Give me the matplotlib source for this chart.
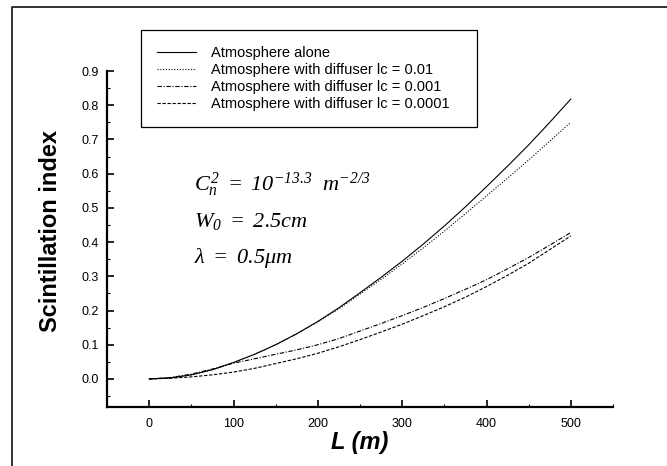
import matplotlib

# Non-interactive backend, the script only writes out.png.
matplotlib.use("Agg")

import matplotlib.pyplot as plt
from matplotlib.lines import Line2D
from matplotlib.ticker import MultipleLocator

plt.rcParams["font.family"] = ["Liberation Sans", "DejaVu Sans"]
plt.rcParams["mathtext.fontset"] = "custom"
plt.rcParams["mathtext.rm"] = "Liberation Serif:italic"
plt.rcParams["mathtext.it"] = "Liberation Serif:italic"

# Propagation distance L (m)
distance = [0, 25, 50, 75, 100, 125, 150, 175, 200, 225, 250,
            275, 300, 325, 350, 375, 400, 425, 450, 475, 500]

atmosphere_alone = [0, 0.003, 0.012, 0.027, 0.048, 0.072, 0.100, 0.132, 0.168, 0.208, 0.252,
                    0.297, 0.344, 0.394, 0.447, 0.503, 0.562, 0.622, 0.684, 0.750, 0.818]
diffuser_001 = [0, 0.003, 0.012, 0.027, 0.048, 0.072, 0.100, 0.132, 0.167, 0.205, 0.248,
                0.291, 0.336, 0.383, 0.432, 0.483, 0.535, 0.587, 0.640, 0.695, 0.750]
diffuser_0001 = [0, 0.004, 0.014, 0.029, 0.046, 0.059, 0.072, 0.085, 0.100, 0.118, 0.140,
                 0.162, 0.185, 0.209, 0.235, 0.262, 0.290, 0.322, 0.355, 0.391, 0.428]
diffuser_00001 = [0, 0.002, 0.006, 0.012, 0.020, 0.031, 0.045, 0.059, 0.075, 0.094, 0.115,
                  0.137, 0.160, 0.185, 0.211, 0.239, 0.270, 0.303, 0.338, 0.378, 0.418]

series_labels = [
    "Atmosphere alone",
    "Atmosphere with diffuser lc = 0.01",
    "Atmosphere with diffuser lc = 0.001",
    "Atmosphere with diffuser lc = 0.0001",
]

x_ticks = [0, 100, 200, 300, 400, 500]
y_ticks = [0.0, 0.1, 0.2, 0.3, 0.4, 0.5, 0.6, 0.7, 0.8, 0.9]

fig = plt.figure(figsize=(6.67, 4.66), dpi=100)
ax = fig.add_axes([107 / 667, 1 - 407 / 466, (613 - 107) / 667, (407 - 71) / 466])

lw = 0.8
ax.plot(distance, atmosphere_alone, color="black", linewidth=lw, linestyle="-",
        label=series_labels[0])
ax.plot(distance, diffuser_001, color="black", linewidth=lw, linestyle=(0, (1, 1.5)),
        label=series_labels[1])
ax.plot(distance, diffuser_0001, color="black", linewidth=lw, linestyle=(0, (4, 1.5, 1, 1.5)),
        label=series_labels[2])
ax.plot(distance, diffuser_00001, color="black", linewidth=lw, linestyle=(0, (3, 1.5)),
        label=series_labels[3])

ax.set_xlim(-50, 550)
ax.set_ylim(-0.082, 0.9)
ax.set_xticks(x_ticks)
ax.set_yticks(y_ticks)
ax.set_yticklabels([f"{v:.1f}" for v in y_ticks])
ax.xaxis.set_minor_locator(MultipleLocator(50))
ax.yaxis.set_minor_locator(MultipleLocator(0.05))

for side in ("top", "right"):
    ax.spines[side].set_visible(False)
for side in ("left", "bottom"):
    ax.spines[side].set_linewidth(1.6)

ax.tick_params(which="major", direction="in", length=5, width=1.2, labelsize=9)
ax.tick_params(axis="x", which="major", pad=8)
ax.tick_params(axis="y", which="major", pad=6)
ax.tick_params(which="minor", direction="in", length=2.5, width=0.8)

ax.set_xlabel("L (m)", fontsize=17, fontweight="bold", fontstyle="italic", labelpad=1)
ax.set_ylabel("Scintillation index", fontsize=17, fontweight="bold")
ax.yaxis.set_label_coords(-0.089, 0.524)

legend_left, legend_top, legend_right, legend_bottom = 141, 30, 477, 123
ax.legend(loc="upper left",
          bbox_to_anchor=(legend_left / 667, 1 - legend_bottom / 466,
                          (legend_right - legend_left) / 667,
                          (legend_bottom - legend_top) / 466),
          bbox_transform=fig.transFigure, mode="expand",
          fontsize=10.5, frameon=True, fancybox=False, edgecolor="black",
          framealpha=1, handlelength=2.7, handletextpad=1.0,
          labelspacing=0.2, borderpad=1.1, borderaxespad=0)
ax.get_legend().get_frame().set_linewidth(0.9)

text_style = dict(fontsize=16, color="black", va="center", ha="left")
ax.text(53, 0.567, r"$C_n^2\ =\ 10^{-13.3}\ \ m^{-2/3}$", **text_style)
ax.text(53, 0.459, r"$W_0\ =\ 2.5cm$", **text_style)
ax.text(53, 0.354, r"$\lambda\ =\ 0.5\mu m$", **text_style)

# Outer frame of the original page, cut off at the right and bottom edges.
frame_x = 12 / 667
frame_y = 1 - 7 / 466
fig.add_artist(Line2D([frame_x, frame_x, 1], [0, frame_y, frame_y],
                      transform=fig.transFigure, color="#222222", linewidth=1.3))

fig.savefig("out.png", dpi=100)
plt.close(fig)
